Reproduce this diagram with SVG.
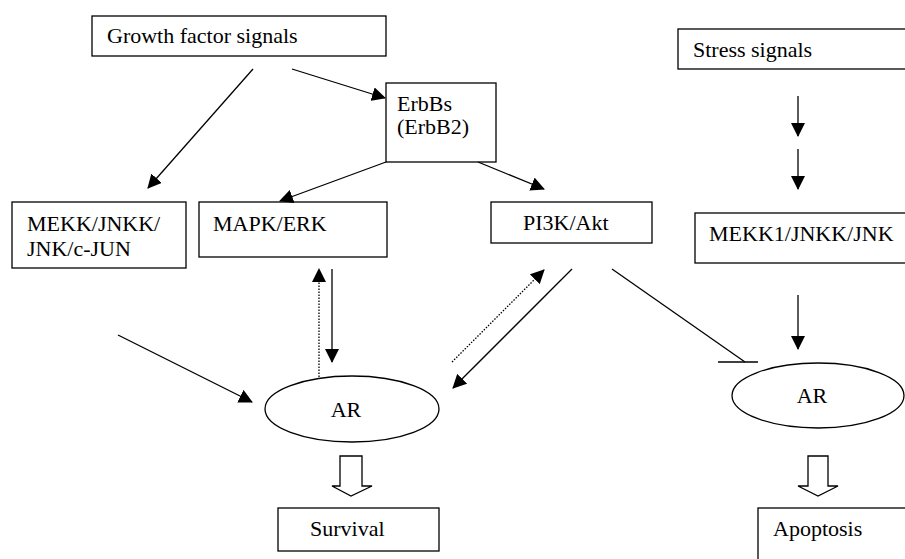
<svg xmlns="http://www.w3.org/2000/svg" width="905" height="559" viewBox="0 0 905 559">
<defs>
<marker id="ah" markerWidth="14" markerHeight="14" refX="13" refY="7" orient="auto" markerUnits="userSpaceOnUse">
<path d="M0,0 L14,7 L0,14 Z" fill="#000"/>
</marker>
<style>
.box{fill:#fff;stroke:#000;stroke-width:1.3}
.t{font-size:22px;fill:#000}
.c{stroke:#000;stroke-width:1.3;fill:none}
.a{marker-end:url(#ah)}
.d{stroke-dasharray:1.5 1.5}
</style>
</defs>
<rect width="905" height="559" fill="#fff"/>
<g font-family="'Liberation Serif', 'Times New Roman', 'DejaVu Serif', serif">
<g id="growth"><rect class="box" x="92" y="16" width="294" height="40"/><text class="t" x="107" y="43">Growth factor signals</text></g>
<g id="erbb"><rect class="box" x="386" y="83" width="110" height="79"/><text class="t" x="397" y="111">ErbBs</text><text class="t" x="397" y="134">(ErbB2)</text></g>
<g id="mekk"><rect class="box" x="12" y="202" width="174" height="66"/><text class="t" x="27" y="231">MEKK/JNKK/</text><text class="t" x="27" y="256">JNK/c-JUN</text></g>
<g id="mapk"><rect class="box" x="199" y="202" width="188" height="55"/><text class="t" x="213" y="231">MAPK/ERK</text></g>
<g id="pi3k"><rect class="box" x="491" y="202" width="161" height="41"/><text class="t" x="523" y="230">PI3K/Akt</text></g>
<g id="stress"><rect class="box" x="678" y="29" width="240" height="40"/><text class="t" x="693" y="57">Stress signals</text></g>
<g id="mekk1"><rect class="box" x="695" y="213" width="220" height="50"/><text class="t" x="709" y="241">MEKK1/JNKK/JNK</text></g>
<g id="ar1"><ellipse class="box" cx="352" cy="409" rx="87" ry="33"/><text class="t" x="346" y="417" text-anchor="middle">AR</text></g>
<g id="ar2"><ellipse class="box" cx="818" cy="395.5" rx="86" ry="32.5"/><text class="t" x="812" y="403" text-anchor="middle">AR</text></g>
<g id="survival"><rect class="box" x="278" y="508" width="161" height="43"/><text class="t" x="310" y="536">Survival</text></g>
<g id="apoptosis"><rect class="box" x="758" y="508" width="160" height="60"/><text class="t" x="773" y="536">Apoptosis</text></g>
</g>
<g id="connectors">
<line class="c a" x1="253" y1="69" x2="148" y2="188"/>
<line class="c a" x1="292" y1="69" x2="385" y2="98"/>
<line class="c a" x1="386" y1="162" x2="280" y2="201"/>
<line class="c a" x1="478" y1="162" x2="544" y2="189"/>
<line class="c a" x1="798" y1="96" x2="798" y2="136"/>
<line class="c a" x1="798" y1="149" x2="798" y2="189"/>
<line class="c a" x1="798" y1="295" x2="798" y2="349"/>
<line class="c" x1="612" y1="269" x2="745" y2="362"/>
<line class="c" x1="718" y1="362" x2="758" y2="362"/>
<line class="c a" x1="572" y1="269" x2="453" y2="388"/>
<line class="c a d" x1="452" y1="362" x2="544" y2="270"/>
<line class="c a d" x1="319" y1="377" x2="319" y2="269"/>
<line class="c a" x1="332" y1="269" x2="332" y2="362"/>
<line class="c a" x1="118" y1="335" x2="252" y2="402"/>
<path class="box" d="M340,456 L362,456 L362,486 L372,486 L351,496 L332,486 L340,486 Z"/>
<path class="box" d="M808,456 L828,456 L828,486 L838,486 L818,496 L798,486 L808,486 Z"/>
</g>
</svg>
